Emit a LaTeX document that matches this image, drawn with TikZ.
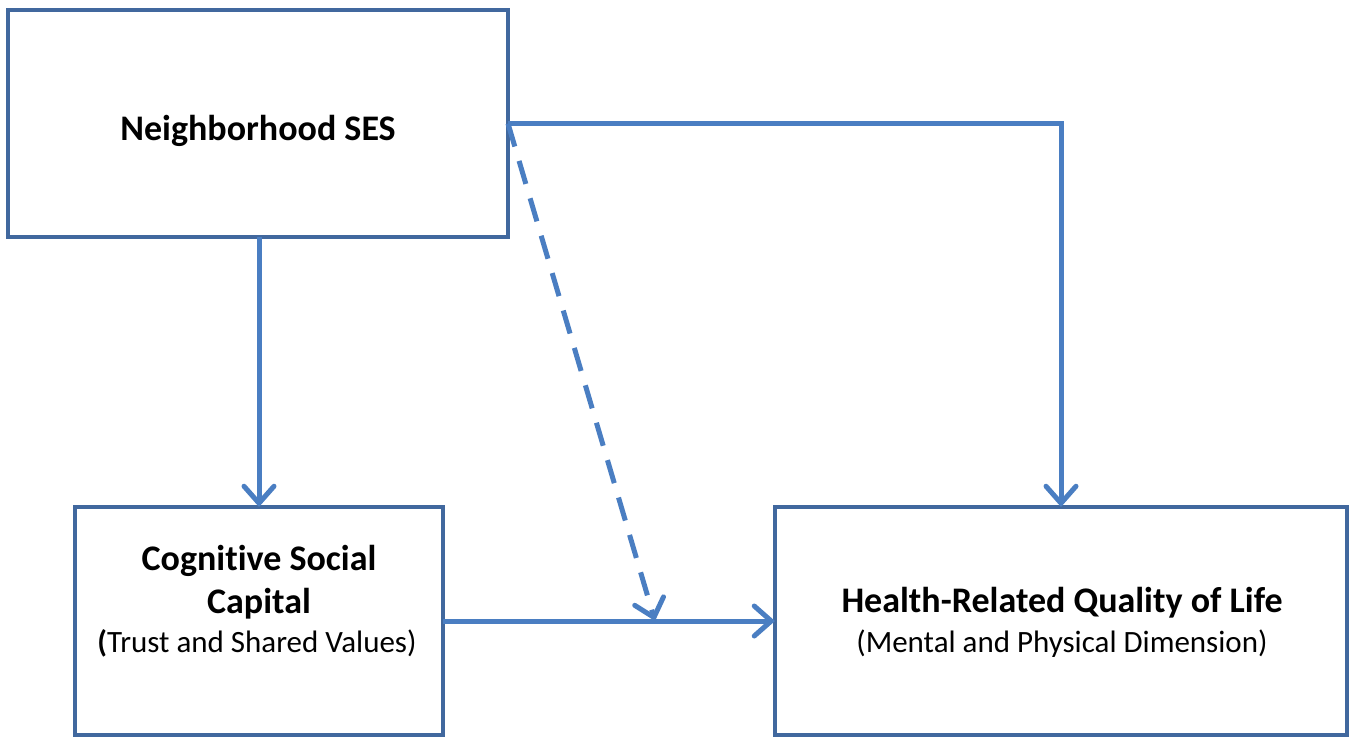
\documentclass[tikz,border=0pt]{standalone}
\usepackage{fontspec}
\setmainfont{Carlito}[Ligatures=NoCommon]
\usetikzlibrary{arrows.meta}
\definecolor{boxblue}{RGB}{65,104,158}
\definecolor{arrblue}{RGB}{74,126,194}
\begin{document}
\begin{tikzpicture}[x=1pt,y=-1pt,
  box/.style={draw=boxblue,line width=4pt,minimum width=#1,inner sep=0pt,outer sep=0pt,fill=white},
  bigbold/.style={font=\fontsize{36}{42}\selectfont\bfseries,inner sep=0pt,anchor=base},
  bold/.style={font=\fontsize{36}{42}\selectfont\bfseries,inner sep=0pt,anchor=base},
  reg/.style={font=\fontsize{31}{36}\selectfont,inner sep=0pt,anchor=base},
  conn/.style={draw=arrblue,line width=5pt,-{Straight Barb[length=17pt,width=30pt,line cap=round]}},
  dconn/.style={conn,dash pattern=on 24pt off 15pt}]
\useasboundingbox[fill=white] (0,0) rectangle (1359,739);
\node[box=500pt,minimum height=227pt] (A) at (258,123.5) {};
\node[box=368pt,minimum height=228pt] (B) at (259,621) {};
\node[box=572pt,minimum height=228pt] (C) at (1061,621) {};
\node[bigbold] (tA) at (258,140) {Neighborhood SES};
\node[bold] (tB1) at (259,570) {Cognitive Social};
\node[bold] (tB2) at (259,613) {Capital};
\node[reg] (tB3) at (257,652) {\textbf{(}Trust and Shared Values)};
\node[bold] (tC1) at (1062,612) {Health-Related Quality of Life};
\node[reg] (tC2) at (1062,652) {(Mental and Physical Dimension)};
\coordinate (mid) at (655,621);
\draw[conn] (A.south -| B.north) -- (B.north);
\draw[conn] (A.east) -| (C.north);
\draw[conn] (B.east) -- (C.west);
\draw[dconn] (A.east) -- (mid);
\end{tikzpicture}
\end{document}
